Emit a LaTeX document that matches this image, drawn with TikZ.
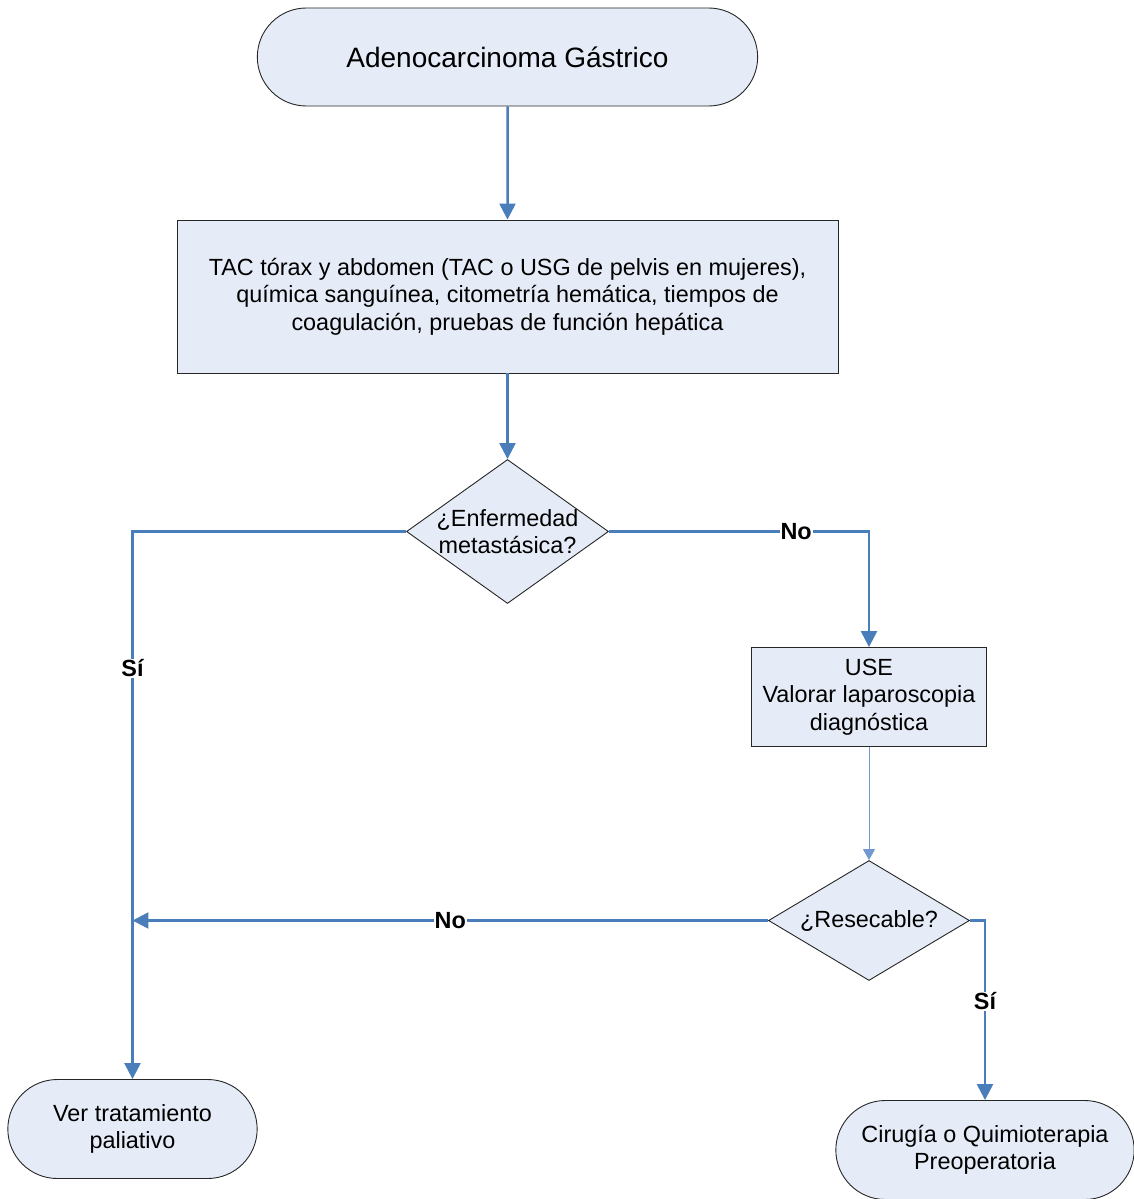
\documentclass[tikz,border=0pt]{standalone}
\usepackage{fontspec}
\setmainfont{Liberation Sans}
\usepackage{tikz}
\usetikzlibrary{shapes.geometric, shapes.misc, arrows.meta}
\definecolor{relleno}{HTML}{E6ECF7}
\definecolor{azul}{HTML}{4A7EBB}
\definecolor{azulclaro}{HTML}{7198D0}
\tikzstyle{inicio} = [rounded rectangle, minimum width=507pt, minimum height=98pt, text centered, draw=black!85, line width=0.9pt, fill=relleno, font=\fontsize{28}{33}\selectfont]
\tikzstyle{fin} = [rounded rectangle, minimum height=99pt, align=center, draw=black!85, line width=0.9pt, fill=relleno]
\tikzstyle{proceso} = [rectangle, align=center, draw=black!85, line width=0.9pt, fill=relleno]
\tikzstyle{decision} = [diamond, align=center, inner sep=0pt, draw=black!85, line width=0.9pt, fill=relleno]
\tikzstyle{flecha} = [line width=2.5pt, azul, -{Triangle[width=16pt,length=16pt]}]
\tikzstyle{flechaFina} = [line width=1pt, azulclaro, -{Triangle[width=12pt,length=11pt]}]
\tikzstyle{etiqueta} = [fill=white, inner sep=1pt, text=black, font=\bfseries\fontsize{23.4}{27.5}\selectfont]

\begin{document}
\begin{tikzpicture}[node distance=235pt, font=\fontsize{23.4}{27.5}\selectfont]

		\useasboundingbox (-507.5pt,57pt) rectangle (625.5pt,-1142pt);

		\node (start) [inicio] {Adenocarcinoma Gástrico};

		\node (tests) [proceso, below of=start, yshift=-4.5pt, minimum width=661pt, minimum height=153pt] {TAC tórax y abdomen (TAC o USG de pelvis en mujeres),\\química sanguínea, citometría hemática, tiempos de\\coagulación, pruebas de función hepática};

		\node (metas) [decision, below of=tests, minimum width=202pt, minimum height=144pt, aspect=1.4, inner xsep=-8pt] {¿Enfermedad\\metastásica?};

		\node (use) [proceso, below of=metas, xshift=361.5pt, yshift=69.5pt, minimum width=235pt, minimum height=99pt] {USE\\Valorar laparoscopia\\diagnóstica};

		\node (resec) [decision, below of=use, yshift=11.5pt, minimum width=201pt, minimum height=120pt, aspect=1.675] {¿Resecable?};

		\node (paliat) [fin, below of=resec, xshift=-736.5pt, yshift=26.5pt, minimum width=256pt] {Ver tratamiento\\paliativo};
		\node (cirug) [fin, below of=resec, xshift=116pt, yshift=5.5pt, minimum width=305pt] {Cirugía o Quimioterapia\\Preoperatoria};

		\coordinate (junta) at (paliat.north |- resec.west);

		\draw [flecha] (start) -- (tests);
		\draw [flecha] (tests) -- (metas);

		\draw [flecha] (metas.west) -| node [etiqueta, pos=0.625] {Sí} (paliat.north);
		\draw [flecha] (metas.east) -| node [etiqueta, pos=0.36] {No} (use.north);

		\draw [flechaFina] (use) -- (resec);

		\draw [flecha] (resec.west) -- node [etiqueta] {No} (junta);
		\draw [flecha] (resec.east) -| node [etiqueta, pos=0.725] {Sí} (cirug.north);

		\end{tikzpicture}
\end{document}
